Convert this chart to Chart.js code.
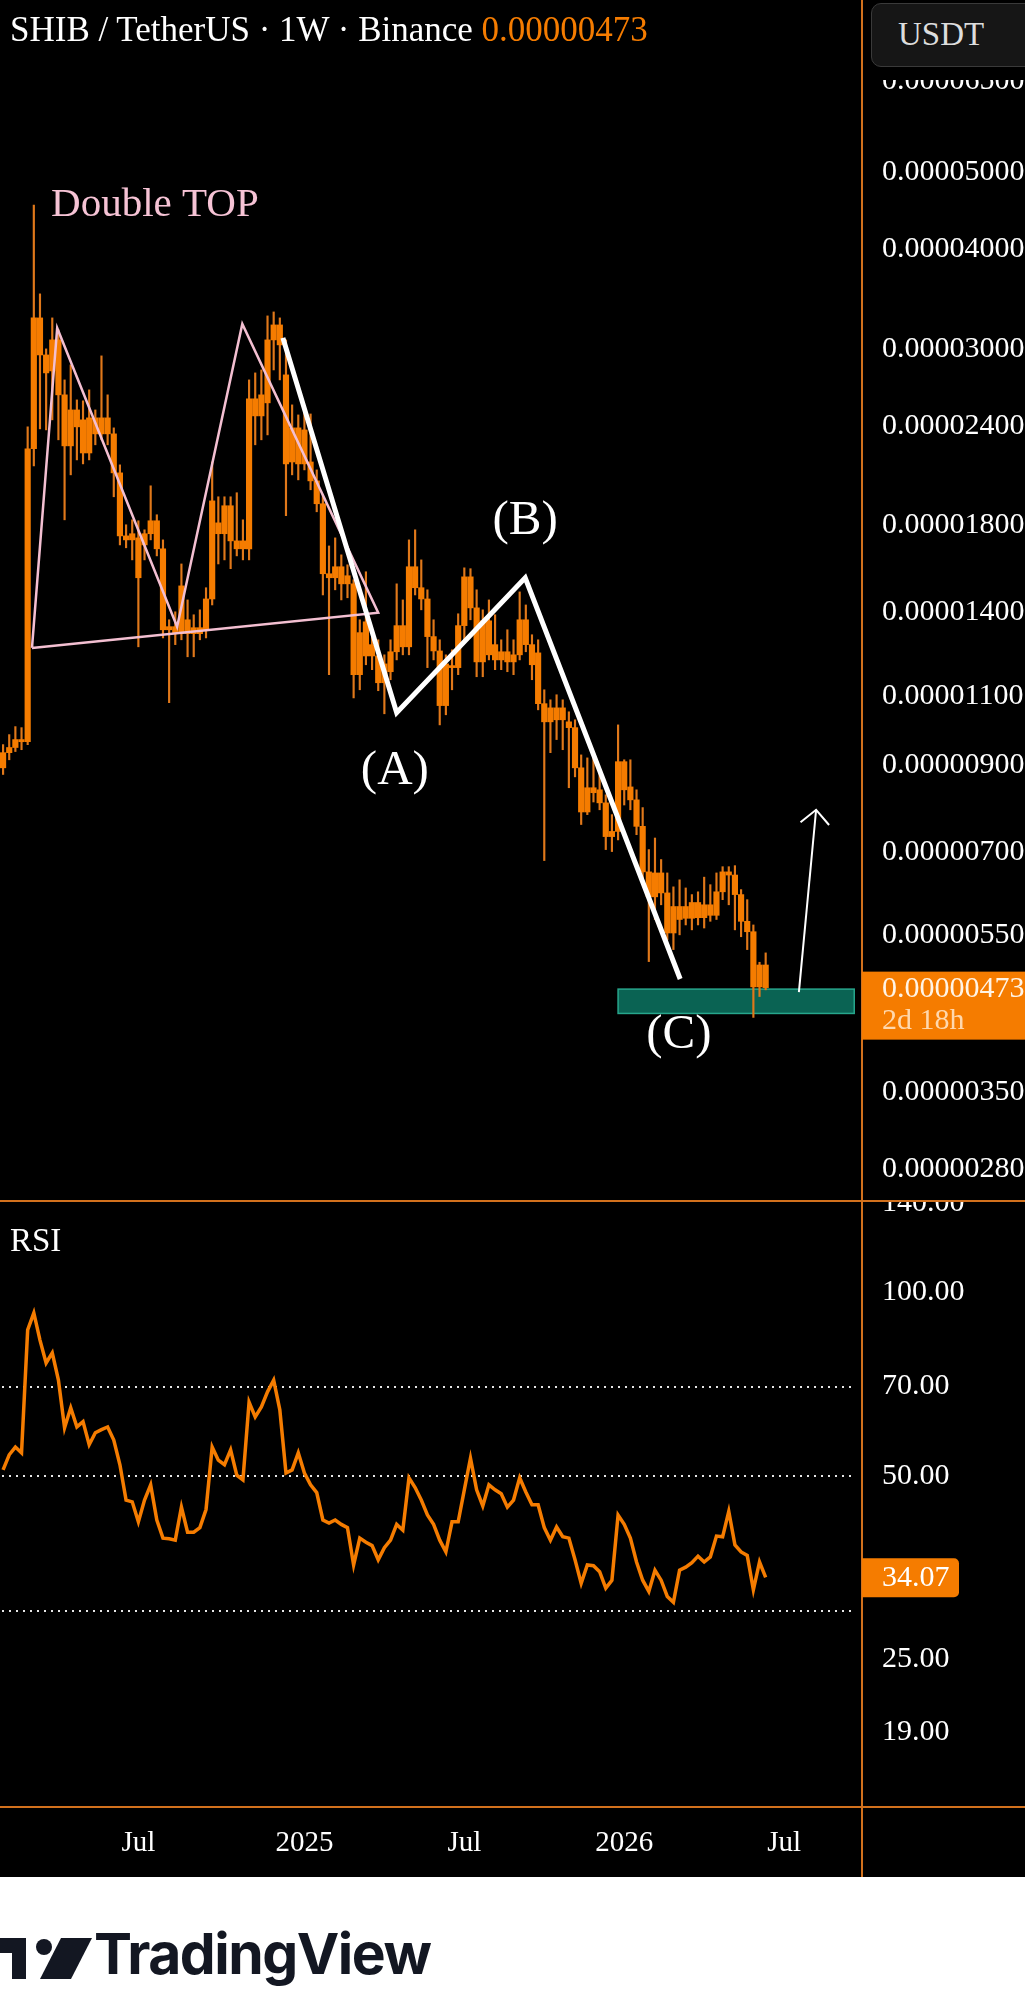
<!DOCTYPE html>
<html>
<head>
<meta charset="utf-8">
<title>SHIB / TetherUS · 1W · Binance</title>
<script src="https://cdn.jsdelivr.net/npm/chart.js@4.4.1/dist/chart.umd.min.js"></script>
<style>
  html, body { margin: 0; padding: 0; background: #fff; }
  #wrap { position: relative; width: 1025px; height: 1993px; overflow: hidden; background: #fff; }
  #dark { position: absolute; left: 0; top: 0; width: 1025px; height: 1877px; background: #000; }
  #priceChart { position: absolute; left: 0; top: 0; }
  #rsiChart { position: absolute; left: 0; top: 1200px; }
  .header { position: absolute; left: 10px; top: 10px; line-height: 42px; font: 35px 'Liberation Serif', serif; color: #fff; white-space: nowrap; }
  .header .last { color: #f57c00; }
  .scale-mask { position: absolute; left: 864px; top: 60px; width: 161px; height: 20px; background: #000; }
  .usdt { position: absolute; left: 871px; top: 3px; width: 170px; height: 64px; box-sizing: border-box; border: 1px solid #3a3a3a; border-radius: 10px; background: #161616; color: #ddd; font: 33px 'Liberation Serif', serif; line-height: 60px; padding-left: 26px; }
  .pane-title { position: absolute; left: 10px; top: 1222px; line-height: 40px; font: 33px 'Liberation Serif', serif; color: #fff; }
  .tv { position: absolute; left: 0; top: 1928px; height: 60px; }
  .tv span { position: absolute; left: 94px; top: -4px; font: 700 57px Inter, sans-serif; letter-spacing: -1.5px; color: #131722; line-height: 60px; white-space: nowrap; }
</style>
</head>
<body>
<div id="wrap">
  <div id="dark"></div>
  <canvas id="priceChart" width="1025" height="1200"></canvas>
  <canvas id="rsiChart" width="1025" height="677"></canvas>
  <div class="header">SHIB / TetherUS · 1W · Binance <span class="last">0.00000473</span></div>
  <div class="scale-mask"></div>
  <div class="usdt">USDT</div>
  <div class="pane-title">RSI</div>
  <div class="tv">
    <svg width="94" height="60" viewBox="0 0 94 60">
      <polygon points="0,10 26,10 26,51 12,51 12,25 0,25" fill="#131722"/>
      <circle cx="44" cy="19" r="8" fill="#131722"/>
      <polygon points="61,10 92,10 71,51 40,51" fill="#131722"/>
    </svg>
    <span>TradingView</span>
  </div>
</div>
<script>
// prices are in units of 0.00000001 USDT
const PRICE_UNIT = 1e-8;

// weekly candles, SHIB/USDT 1W
const open = [
  893, 933, 947, 969, 963, 2246, 3279, 2946, 2813, 3077,
  2625, 2265, 2513, 2442, 2219, 2456, 2345, 2456, 2345, 2095,
  1746, 1726, 1736, 1701, 1757, 1824, 1682, 1331, 1343, 1316,
  1370, 1316, 1339, 1331, 1455, 1813, 1757, 1905, 1721, 1682,
  1682, 2595, 2470, 2565, 3077, 3213, 2781, 2162, 2386, 2150,
  2162, 2047, 1916, 1565, 1547, 1597, 1520, 1520, 1169, 1234,
  1275, 1234, 1142, 1179, 1249, 1347, 1267, 1597, 1503, 1455,
  1305, 1252, 1069, 1193, 1193, 1347, 1551, 1418, 1213, 1366,
  1275, 1220, 1249, 1213, 1238, 1370, 1275, 1245, 1075, 1020,
  1062, 1026, 1020, 1003, 893, 786, 843, 838, 807, 743,
  743, 909, 845, 814, 754, 661, 615, 659, 622, 554,
  576, 598, 578, 605, 579, 601, 583, 624, 661, 655,
  619, 573, 556, 474, 505
];
const high = [
  955, 983, 1006, 1003, 2393, 4545, 3515, 2998, 3279, 3167,
  2741, 2862, 2587, 2580, 2663, 2513, 2938, 2625, 2386, 2144,
  1803, 1829, 1824, 1777, 2018, 1856, 1726, 1370, 1402, 1610,
  1451, 1390, 1410, 1503, 2162, 1955, 1955, 1955, 1978, 1829,
  2741, 2797, 2821, 3298, 3336, 3279, 3077, 2550, 2477, 2499,
  2484, 2113, 1966, 1696, 1736, 1653, 1606, 1538, 1370, 1574,
  1331, 1293, 1238, 1293, 1520, 1451, 1726, 1777, 1629, 1494,
  1370, 1293, 1238, 1256, 1394, 1592, 1588, 1494, 1410, 1451,
  1390, 1293, 1331, 1293, 1485, 1430, 1312, 1293, 1119, 1087,
  1103, 1087, 1050, 1026, 927, 919, 927, 883, 826, 780,
  1011, 914, 914, 838, 796, 705, 729, 685, 659, 633,
  646, 631, 619, 624, 651, 637, 659, 671, 671, 673,
  628, 610, 567, 509, 523
];
const low = [
  876, 914, 936, 941, 955, 2138, 2379, 2372, 2442, 2305,
  1829, 2083, 2175, 2150, 2175, 2272, 2305, 2272, 1955, 1701,
  1687, 1629, 1267, 1629, 1726, 1648, 1300, 1078, 1275, 1293,
  1231, 1231, 1293, 1300, 1430, 1610, 1629, 1588, 1648, 1629,
  1629, 2272, 2305, 2338, 2821, 2741, 1851, 2083, 2053, 2113,
  1995, 1872, 1472, 1169, 1494, 1451, 1460, 1093, 1119, 1203,
  1186, 1116, 1044, 1152, 1220, 1238, 1238, 1472, 1410, 1193,
  1220, 1011, 1041, 1119, 1169, 1293, 1370, 1162, 1162, 1220,
  1186, 1186, 1179, 1169, 1220, 1249, 1152, 1056, 683, 933,
  969, 941, 843, 870, 758, 780, 809, 791, 705, 701,
  725, 802, 791, 736, 646, 510, 576, 601, 543, 528,
  551, 567, 559, 567, 562, 573, 576, 610, 601, 559,
  548, 528, 434, 461, 470
];
const close = [
  933, 947, 969, 963, 2246, 3279, 2946, 2797, 3077, 2625,
  2265, 2513, 2393, 2219, 2456, 2345, 2456, 2345, 2095, 1746,
  1726, 1757, 1547, 1757, 1824, 1682, 1331, 1343, 1316, 1511,
  1316, 1339, 1316, 1455, 1932, 1757, 1905, 1721, 1682, 1721,
  2595, 2470, 2625, 3077, 3213, 3033, 2150, 2386, 2150, 2372,
  2047, 1916, 1565, 1547, 1597, 1520, 1556, 1169, 1320, 1362,
  1234, 1142, 1206, 1249, 1347, 1267, 1597, 1503, 1455, 1305,
  1252, 1069, 1206, 1200, 1347, 1551, 1418, 1213, 1366, 1238,
  1220, 1249, 1213, 1238, 1370, 1275, 1203, 1075, 1020, 1062,
  1026, 1062, 1003, 893, 786, 843, 831, 807, 732, 732,
  909, 838, 814, 754, 661, 615, 659, 622, 554, 598,
  598, 578, 605, 579, 601, 583, 624, 661, 655, 619,
  573, 556, 474, 505, 473
];

// RSI(14) per week
const rsi = [
  51.1, 54.1, 55.7, 54.5, 86.7, 92.4, 83.4, 76.5, 79.5, 71.7,
  59.9, 64.6, 60.1, 61.3, 56.2, 58.8, 59.5, 60.1, 57.2, 52.1,
  45.6, 45.3, 42.0, 45.6, 48.3, 42.3, 39.5, 39.4, 39.2, 44.4,
  40.4, 40.4, 41.1, 44.0, 55.7, 53.0, 52.1, 55.1, 50.1, 49.2,
  66.0, 62.4, 64.8, 68.6, 71.7, 64.1, 50.5, 51.1, 54.5, 50.5,
  48.3, 46.9, 42.3, 41.8, 42.3, 41.6, 41.1, 35.7, 39.5, 38.9,
  38.4, 36.4, 38.1, 39.2, 41.6, 40.7, 49.6, 47.8, 45.6, 43.1,
  41.6, 39.2, 37.5, 42.0, 42.0, 47.4, 53.4, 47.4, 44.6, 48.3,
  47.4, 46.7, 44.4, 45.6, 49.6, 47.0, 44.8, 44.8, 41.1, 39.2,
  41.2, 39.7, 39.5, 36.4, 33.3, 35.7, 35.6, 34.8, 32.7, 33.7,
  43.1, 41.6, 39.5, 36.1, 33.7, 32.3, 35.0, 33.7, 31.7, 31.0,
  35.0, 35.4, 36.0, 36.9, 36.1, 36.8, 39.8, 39.7, 43.7, 38.5,
  37.5, 37.0, 32.5, 36.1, 34.07
];

const priceTicks = [6500, 5000, 4000, 3000, 2400, 1800, 1400, 1100, 900, 700, 550, 350, 280];
const rsiTicks = [140, 100, 70, 50, 25, 19];
const rsiLevels = [70, 50, 30];
const lastPrice = 473;
const barCountdown = '2d 18h';

// drawings, in (week index, price) space
const doubleTopPath = [[4.7, 1263], [8.8, 3185], [28.3, 1343], [38.9, 3222], [61.0, 1398], [4.7, 1263]];
const abcPath = [[45.5, 3095], [64.0, 1047], [84.9, 1547], [110.1, 485]];
const targetArrow = [[129.4, 467], [132.2, 791]];
const supportZone = { from: 100, to: 138.4, low: 439, high: 471 };
const notes = [
  { text: 'Double TOP', at: [7.8, 4546], color: '#f6c3d5', size: 41, align: 'left' },
  { text: '(A)', at: [63.7, 885], color: '#ffffff', size: 49, align: 'center' },
  { text: '(B)', at: [84.9, 1824], color: '#ffffff', size: 49, align: 'center' },
  { text: '(C)', at: [109.9, 412], color: '#ffffff', size: 49, align: 'center' }
];

// weeks (Monday opens)
const firstWeek = Date.UTC(2024, 0, 29);
const weekCount = 140;
const weeks = [];
for (let i = 0; i < weekCount; i++) {
  weeks.push(new Date(firstWeek + i * 7 * 86400000).toISOString().slice(0, 10));
}

const ORANGE = '#f57c00';
const WICK = '#e0781a';
const SEPARATOR = '#d2711d';
const AXIS_W = 164;
const FONT = "'Liberation Serif', serif";

Chart.defaults.font.family = FONT;
Chart.defaults.color = '#ffffff';

function timeLabel(index){
  const d = weeks[index], p = weeks[index - 1];
  if(!p) return '';
  if(d.slice(0, 4) !== p.slice(0, 4)) return d.slice(0, 4);
  if(d.slice(5, 7) === '07' && p.slice(5, 7) !== '07') return 'Jul';
  return '';
}

// keep the plot area flush with the canvas edges, like the TradingView panes
function fixAxisWidth(s){
  s.width = AXIS_W;
  s.paddingTop = 0; s.paddingBottom = 0;
}
function fixTimeAxis(s){
  s.height = 70;
  s.paddingLeft = 0; s.paddingRight = 0;
}

function toPx(chart, pt){
  return [chart.scales.x.getPixelForValue(pt[0]), chart.scales.y.getPixelForValue(pt[1])];
}

function strokePath(chart, pts, color, width){
  const ctx = chart.ctx;
  ctx.beginPath();
  pts.forEach((p, i) => {
    const [px, py] = toPx(chart, p);
    if(i === 0) ctx.moveTo(px, py); else ctx.lineTo(px, py);
  });
  ctx.strokeStyle = color;
  ctx.lineWidth = width;
  ctx.stroke();
}

const priceOverlay = {
  id: 'priceOverlay',
  beforeDatasetsDraw(chart){
    const { ctx, scales: { x, y } } = chart;
    const x0 = x.getPixelForValue(supportZone.from), x1 = x.getPixelForValue(supportZone.to);
    const y0 = y.getPixelForValue(supportZone.high), y1 = y.getPixelForValue(supportZone.low);
    ctx.save();
    ctx.fillStyle = '#0a6353';
    ctx.fillRect(x0, y0, x1 - x0, y1 - y0);
    ctx.strokeStyle = '#27a68c';
    ctx.lineWidth = 1.5;
    ctx.strokeRect(x0, y0, x1 - x0, y1 - y0);
    ctx.restore();
  },
  afterDatasetsDraw(chart){
    const { ctx, chartArea } = chart;
    ctx.save();
    ctx.beginPath();
    ctx.rect(chartArea.left, chartArea.top, chartArea.width, chartArea.height);
    ctx.clip();
    ctx.lineJoin = 'miter';
    strokePath(chart, doubleTopPath, '#f3bfd1', 2.5);
    strokePath(chart, abcPath, '#ffffff', 5);
    strokePath(chart, targetArrow, '#ffffff', 2);
    // arrow head
    const [tx, ty] = toPx(chart, targetArrow[1]);
    const [sx, sy] = toPx(chart, targetArrow[0]);
    const back = Math.atan2(sy - ty, sx - tx);
    ctx.beginPath();
    ctx.moveTo(tx + 20 * Math.cos(back + 0.8), ty + 20 * Math.sin(back + 0.8));
    ctx.lineTo(tx, ty);
    ctx.lineTo(tx + 20 * Math.cos(back - 0.8), ty + 20 * Math.sin(back - 0.8));
    ctx.stroke();
    // text notes
    ctx.textBaseline = 'middle';
    notes.forEach(n => {
      const [nx, ny] = toPx(chart, n.at);
      ctx.font = n.size + 'px ' + FONT;
      ctx.fillStyle = n.color;
      ctx.textAlign = n.align;
      ctx.fillText(n.text, nx, ny);
    });
    ctx.restore();
  },
  afterDraw(chart){
    const { ctx, chartArea, scales: { y } } = chart;
    ctx.save();
    ctx.fillStyle = SEPARATOR;
    ctx.fillRect(chartArea.right, 0, 2, chart.height);
    // last price badge
    const py = y.getPixelForValue(lastPrice);
    ctx.fillStyle = ORANGE;
    ctx.fillRect(chartArea.right + 1, py - 16, chart.width - chartArea.right, 68);
    ctx.font = '30px ' + FONT;
    ctx.textAlign = 'left';
    ctx.textBaseline = 'middle';
    ctx.fillStyle = '#fff4e6';
    ctx.fillText((lastPrice * PRICE_UNIT).toFixed(8), chartArea.right + 21, py + 1);
    ctx.fillStyle = '#ffd8ad';
    ctx.fillText(barCountdown, chartArea.right + 21, py + 33);
    ctx.restore();
  }
};

const rsiOverlay = {
  id: 'rsiOverlay',
  beforeDatasetsDraw(chart){
    const { ctx, chartArea, scales: { y } } = chart;
    ctx.save();
    ctx.strokeStyle = 'rgba(255,255,255,0.9)';
    ctx.lineWidth = 2;
    ctx.setLineDash([2, 5]);
    rsiLevels.forEach(v => {
      const ly = Math.round(y.getPixelForValue(v));
      ctx.beginPath();
      ctx.moveTo(chartArea.left + 2, ly);
      ctx.lineTo(chartArea.right - 6, ly);
      ctx.stroke();
    });
    ctx.restore();
  },
  afterDraw(chart){
    const { ctx, chartArea, scales: { y } } = chart;
    const last = rsi[rsi.length - 1];
    ctx.save();
    ctx.fillStyle = SEPARATOR;
    ctx.fillRect(0, 0, chart.width, 2);
    ctx.fillRect(0, chartArea.bottom - 1, chart.width, 2);
    ctx.fillRect(chartArea.right, 0, 2, chart.height);
    const py = y.getPixelForValue(last);
    ctx.fillStyle = ORANGE;
    ctx.beginPath();
    ctx.roundRect(chartArea.right + 1, py - 19, 97, 39, [0, 5, 5, 0]);
    ctx.fill();
    ctx.font = '30px ' + FONT;
    ctx.textAlign = 'left';
    ctx.textBaseline = 'middle';
    ctx.fillStyle = '#ffffff';
    ctx.fillText(last.toFixed(2), chartArea.right + 21, py + 1);
    ctx.restore();
  }
};

const bodies = open.map((o, i) => [Math.min(o, close[i]), Math.max(o, close[i])]);
const wicks = low.map((l, i) => [l, high[i]]);

new Chart(document.getElementById('priceChart'), {
  type: 'bar',
  data: {
    labels: weeks,
    datasets: [
      { data: bodies, backgroundColor: ORANGE, barThickness: 5.5, grouped: false, minBarLength: 1.5 },
      { data: wicks, backgroundColor: WICK, barThickness: 1.5, grouped: false }
    ]
  },
  options: {
    responsive: false, devicePixelRatio: 1, animation: false,
    layout: { padding: 0, autoPadding: false },
    plugins: { legend: { display: false }, tooltip: { enabled: false } },
    scales: {
      x: { display: false, offset: true },
      y: {
        type: 'logarithmic', position: 'right', min: 256, max: 8220,
        afterFit: fixAxisWidth,
        afterBuildTicks: s => { s.ticks = priceTicks.map(v => ({ value: v })); },
        grid: { display: false, drawTicks: false }, border: { display: false },
        ticks: { color: '#ffffff', padding: 21, autoSkip: false, font: { size: 30 },
          callback: v => (v * PRICE_UNIT).toFixed(8) }
      }
    }
  },
  plugins: [priceOverlay]
});

new Chart(document.getElementById('rsiChart'), {
  type: 'line',
  data: {
    labels: weeks,
    datasets: [{ data: rsi, borderColor: ORANGE, borderWidth: 3.5, pointRadius: 0, tension: 0 }]
  },
  options: {
    responsive: false, devicePixelRatio: 1, animation: false,
    layout: { padding: 0, autoPadding: false },
    plugins: { legend: { display: false }, tooltip: { enabled: false } },
    scales: {
      x: {
        offset: true,
        afterFit: fixTimeAxis,
        grid: { display: false, drawTicks: false }, border: { display: false },
        ticks: { color: '#ffffff', autoSkip: false, maxRotation: 0, padding: 19, font: { size: 29 },
          callback: (v, i) => timeLabel(i) }
      },
      y: {
        type: 'logarithmic', position: 'right', min: 14.32, max: 141.5,
        afterFit: fixAxisWidth,
        afterBuildTicks: s => { s.ticks = rsiTicks.map(v => ({ value: v })); },
        grid: { display: false, drawTicks: false }, border: { display: false },
        ticks: { color: '#ffffff', padding: 21, autoSkip: false, font: { size: 30 },
          callback: v => v.toFixed(2) }
      }
    }
  },
  plugins: [rsiOverlay]
});
</script>
</body>
</html>
